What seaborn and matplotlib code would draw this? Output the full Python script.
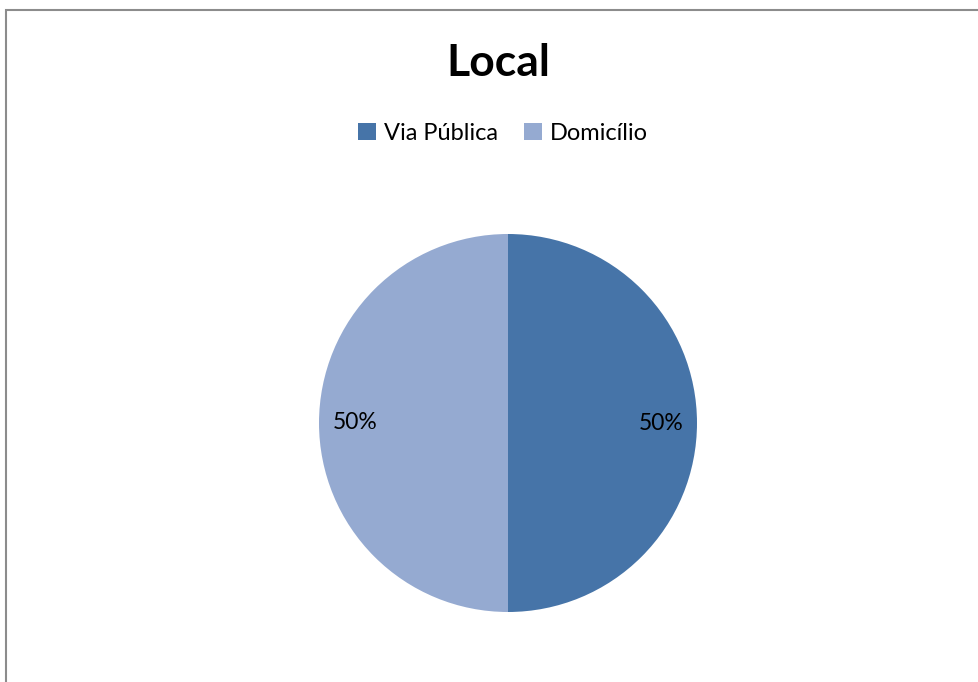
import matplotlib
matplotlib.use("Agg")
import matplotlib.pyplot as plt
import seaborn as sns
from matplotlib.patches import Rectangle

categories = ["Via Pública", "Domicílio"]
values = [50, 50]
colors = ["#4674A8", "#95AAD1"]
title = "Local"

sns.set_theme(style="white")
plt.rcParams['font.family'] = ['Lato', 'DejaVu Sans']
plt.rcParams['text.color'] = 'black'

W, H = 979, 682
fig = plt.figure(figsize=(W / 100, H / 100), dpi=100)
fig.patch.set_facecolor("white")

# frame border (left and top visible)
fig.patches.append(Rectangle((6 / W, -0.1), 1.2, (H - 10) / H + 0.1,
                             transform=fig.transFigure, fill=False,
                             edgecolor="#8c8c8c", linewidth=1.5))

cx, cy, r = 508, 423, 189
ax = fig.add_axes([(cx - r) / W, (H - cy - r) / H, 2 * r / W, 2 * r / H])
wedges, texts, autotexts = ax.pie(values, colors=colors, startangle=90, counterclock=False,
                                  autopct="%1.0f%%", pctdistance=0.81,
                                  wedgeprops=dict(linewidth=0),
                                  textprops=dict(fontsize=16.5, color="black"))
ax.set_xlim(-1, 1)
ax.set_ylim(-1, 1)
ax.set_aspect("equal")
ax.axis("off")

fig.text(498 / W, 1 - 63 / H, title, ha="center", va="center", fontsize=32,
         fontweight="bold", color="black")

leg = fig.legend(wedges, categories, loc="center", bbox_to_anchor=(503 / W, 1 - 133 / H), ncol=2,
                 frameon=False, fontsize=17, handlelength=0.75, handleheight=0.75,
                 handletextpad=0.35, columnspacing=1.1, labelcolor="black")

fig.savefig("out.png", dpi=100)
